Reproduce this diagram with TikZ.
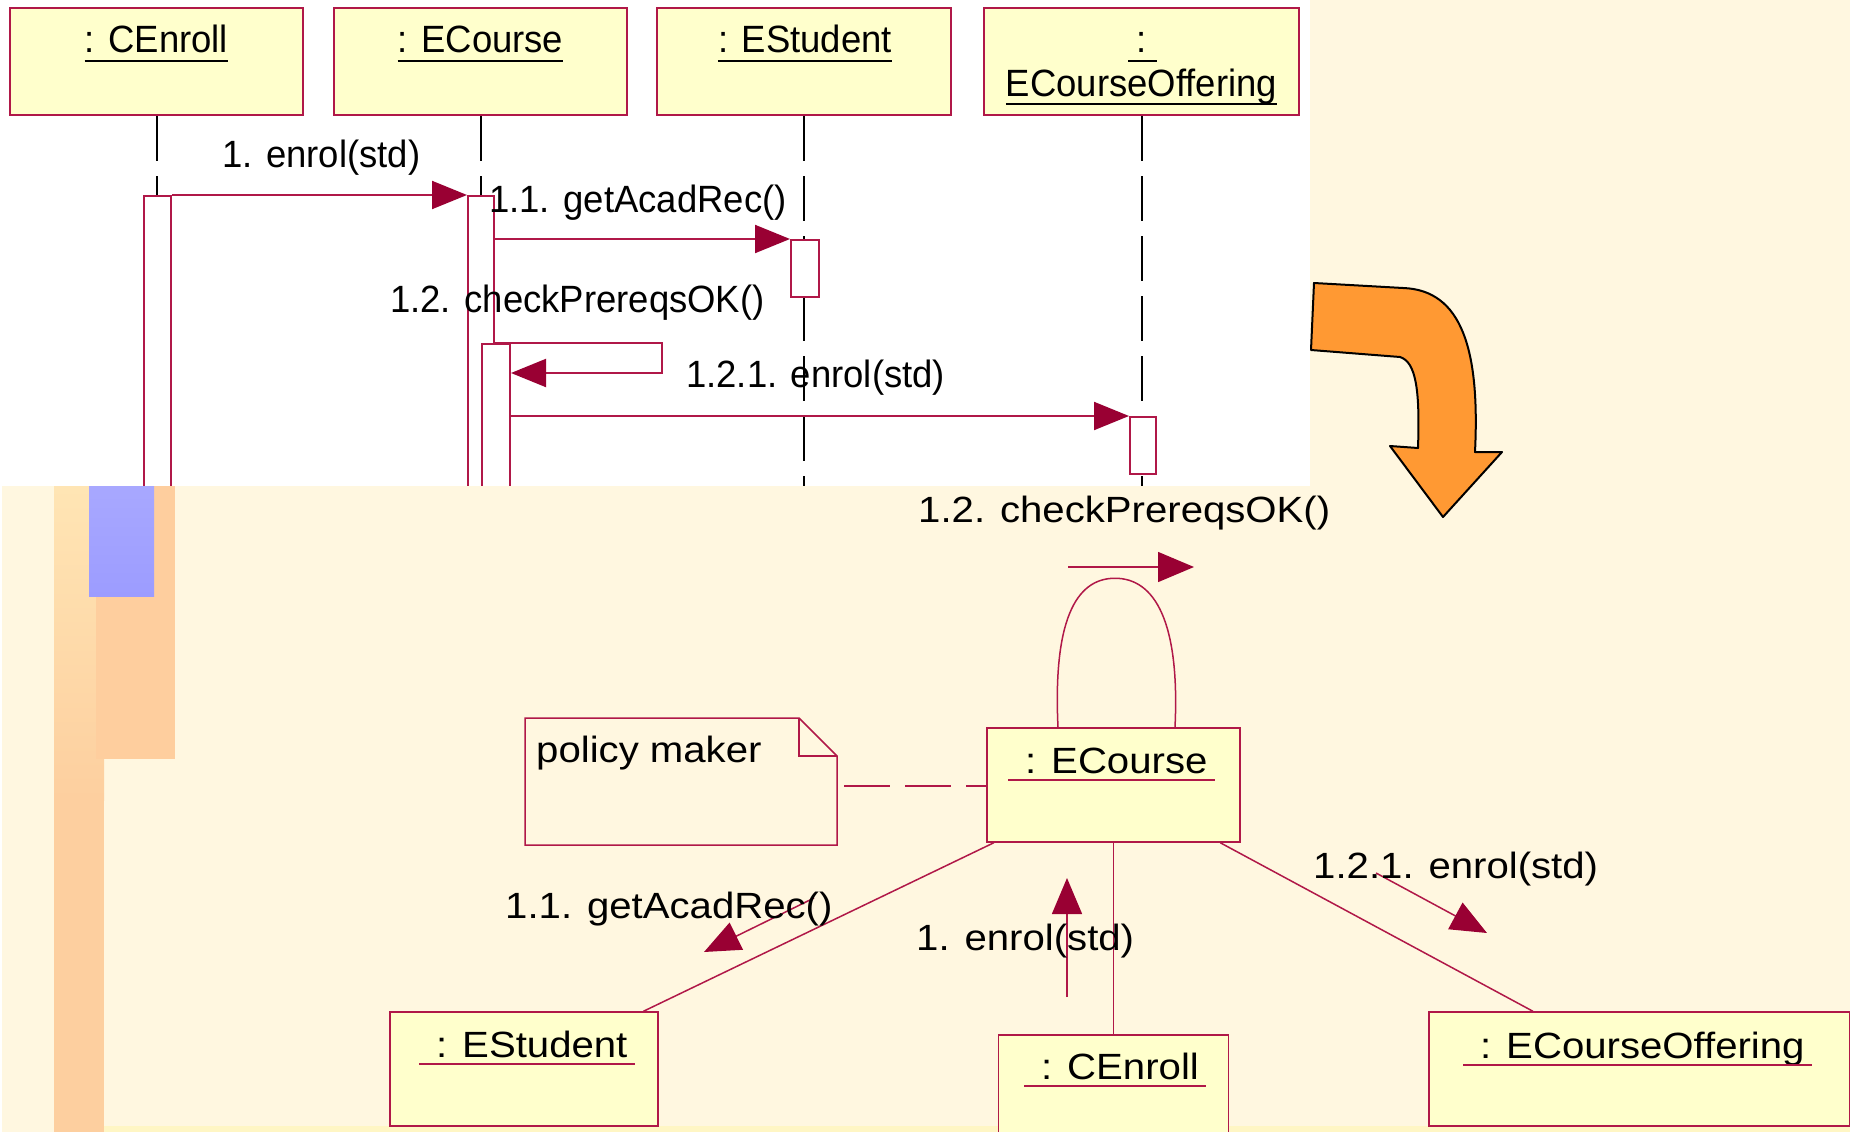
\documentclass[tikz,border=0pt]{standalone}
\usepackage{fontspec}
\setmainfont{Liberation Sans}
\newfontfamily\seqfont[FakeStretch=0.96]{Liberation Sans}
\newfontfamily\colfont[FakeStretch=1.1]{Liberation Sans}
\usetikzlibrary{arrows.meta}
\definecolor{cream}{RGB}{255,247,224}
\definecolor{objyellow}{RGB}{255,255,204}
\definecolor{umlred}{RGB}{176,24,72}
\definecolor{tipred}{RGB}{153,0,51}
\definecolor{bandtop}{RGB}{255,229,180}
\definecolor{bandbot}{RGB}{253,207,159}
\definecolor{peach}{RGB}{254,206,158}
\definecolor{lavender}{RGB}{156,156,255}
\definecolor{arroworange}{RGB}{255,153,51}
\definecolor{stripyellow}{RGB}{255,246,196}

\begin{document}
\begin{tikzpicture}[x=1pt,y=-1pt,
	seqbox/.style={draw=umlred,line width=2pt,fill=objyellow,inner sep=0pt},
	actbox/.style={draw=umlred,line width=2pt,fill=white,inner sep=0pt,anchor=north west},
	lifeline/.style={line width=2pt,dash pattern=on 45pt off 15pt},
	seqtext/.style={inner sep=0pt,font=\seqfont\fontsize{38}{40}\selectfont},
	msg/.style={umlred,line width=2pt,-{Triangle[length=35pt,width=28pt,color=tipred,fill=tipred]}},
	colbox/.style={draw=umlred,line width=1.5pt,fill=objyellow,inner sep=0pt},
	coltext/.style={inner sep=0pt,anchor=base west,font=\colfont\fontsize{36.5}{40}\selectfont},
	link/.style={umlred,line width=1.5pt},
	colmsg/.style={umlred,line width=1.5pt,-{Triangle[length=36pt,width=30pt,color=tipred,fill=tipred]}}]
			\useasboundingbox (0,0) rectangle (1850,1132);
			\fill[cream] (0,0) rectangle (1850,1132);
			\fill[white] (0,0) rectangle (1310,486);
			
			\node[seqbox,minimum width=293,minimum height=107] (seqA) at (156.5,61.5) {};
			\node[seqbox,minimum width=293,minimum height=107] (seqB) at (480.5,61.5) {};
			\node[seqbox,minimum width=294,minimum height=107] (seqC) at (804,61.5) {};
			\node[seqbox,minimum width=315,minimum height=107] (seqD) at (1141.5,61.5) {};
			
			\foreach \b in {seqA,seqB,seqC,seqD}{
				\draw[lifeline] (\b.south) -- (\b.south |- 0,490);
			}
			
			\node[seqtext,anchor=base] (tA) at (156.5,53) {: CEnroll};
			\node[seqtext,anchor=base] (tB) at (480.5,53) {: ECourse};
			\node[seqtext,anchor=base] (tC) at (805,53) {: EStudent};
			\node[seqtext,anchor=base] (tD) at (1142,53) {:};
			\node[seqtext,anchor=base] (tDD) at (1141.5,96) {ECourseOffering};
			\foreach \t in {tA,tB,tC,tDD}{
				\draw[line width=1.5pt] ([yshift=-8pt]\t.base west) -- ([yshift=-8pt]\t.base east);
			}
			\draw[line width=1.5pt] ([shift={(-14,8)}]tD.base) -- ([shift={(15,8)}]tD.base);
			
			\node[actbox,minimum width=27,minimum height=330] (actA) at (143,195) {};
			\node[actbox,minimum width=26,minimum height=330] (actB) at (467,195) {};
			\node[actbox,minimum width=28,minimum height=57] (actC) at (790,239) {};
			\node[actbox,minimum width=28,minimum height=200] (actBB) at (481,343) {};
			\node[actbox,minimum width=26,minimum height=57] (actD) at (1129,416) {};
			
			\draw[msg] (actA.north east) -- (actB.north west);
			\draw[msg] (actB.east |- actC.north) -- (actC.north west);
			\draw[msg] (actB.east |- actBB.north) -| ++(167,30) -- ([yshift=-30pt]actBB.north east);
			\draw[msg] (actBB.east |- actD.north) -- (actD.north west);
			
			\node[seqtext,anchor=base west] (m1) at (222,167) {1. enrol(std)};
			\node[seqtext,anchor=base west] (m11) at (489,212) {1.1. getAcadRec()};
			\node[seqtext,anchor=base west] (m12) at (390,312) {1.2. checkPrereqsOK()};
			\node[seqtext,anchor=base west] (m121) at (686,387) {1.2.1. enrol(std)};
			
			\fill[cream] (0,486) rectangle (1850,1132);
			\fill[white] (0,486) rectangle (2,1132);
			\shade[top color=bandtop,bottom color=bandbot] (54,486) rectangle (104,800);
			\fill[bandbot] (54,799) rectangle (104,1132);
			\fill[peach] (96,486) rectangle (175,759);
			\shade[top color=lavender!88!white,bottom color=lavender] (89,486) rectangle (154,596);
			\fill[stripyellow] (104,1126) rectangle (1850,1132);
			
			\draw[link,fill=cream] (525,718) -- (799,718) -- (837,756) -- (837,845) -- (525,845) -- cycle;
			\draw[link] (799,718) -- (799,756) -- (837,756);
			\coordinate (noteR) at (837,786);
			\node[coltext] (note) at (536,762) {policy maker};
			
			\node[colbox,minimum width=253,minimum height=114] (colB) at (1113.5,785) {};
			\node[colbox,minimum width=268,minimum height=114] (colC) at (524,1069) {};
			\node[colbox,minimum width=230,minimum height=114] (colA) at (1113.5,1092) {};
			\node[colbox,minimum width=421,minimum height=114] (colD) at (1639.5,1069) {};
			
			\foreach \b in {colC,colA,colD}{
				\draw[link] (colB) -- (\b);
			}
			\draw[link,dash pattern=on 46pt off 15pt,dash phase=54pt] (noteR) -- (noteR -| colB.west);
			\draw[link] ([xshift=-55.5pt]colB.north) .. controls +(-5,-105) and +(-40,0) .. ([shift={(1.5,-149)}]colB.north)
				.. controls +(40,0) and +(5,-105) .. ([xshift=61.5pt]colB.north);
			
			\node[coltext] (cB) at (1025,773) {: ECourse};
			\node[coltext] (cC) at (436,1057) {: EStudent};
			\node[coltext] (cA) at (1041,1079) {: CEnroll};
			\node[coltext] (cD) at (1480,1058) {: ECourseOffering};
			\foreach \t in {cB,cC,cA,cD}{
				\draw[link] ([shift={(-17,7)}]\t.base west) -- ([shift={(7,7)}]\t.base east);
			}
			
			\coordinate (a1s) at (1067,997);
			\coordinate (a1e) at (1067,878);
			\coordinate (a11s) at (814,898);
			\coordinate (a11e) at (704,952);
			\coordinate (a12s) at (1068,567);
			\coordinate (a12e) at (1194,567);
			\coordinate (a121s) at (1376,873);
			\coordinate (a121e) at (1487,933);
			\draw[colmsg] (a1s) -- (a1e);
			\draw[colmsg] (a11s) -- (a11e);
			\draw[colmsg] (a12s) -- (a12e);
			\draw[colmsg] (a121s) -- (a121e);
			
			\node[coltext] (k12) at (918,522) {1.2. checkPrereqsOK()};
			\node[coltext] (k11) at (505,918) {1.1. getAcadRec()};
			\node[coltext] (k1) at (916,950) {1. enrol(std)};
			\node[coltext] (k121) at (1313,878) {1.2.1. enrol(std)};
			
			\draw[line width=2pt,line join=round,fill=arroworange] (1314,283) -- (1403,288)
				.. controls (1462,290) and (1480,350) .. (1475,452) -- (1502,452) -- (1443,517)
				-- (1390,446) -- (1418,448) .. controls (1420,390) and (1416,362) .. (1400,357)
				-- (1311,350) -- cycle;
		\end{tikzpicture}
\end{document}
